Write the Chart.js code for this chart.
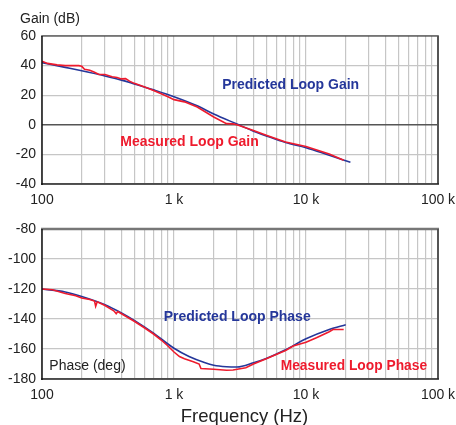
<!DOCTYPE html>
<html>
<head>
<meta charset="utf-8">
<script src="https://cdn.jsdelivr.net/npm/chart.js@4.4.1/dist/chart.umd.min.js"></script>
<style>
  html, body { margin: 0; padding: 0; background: #fff; }
  #wrap { position: relative; width: 456px; height: 425px; overflow: hidden; }
  canvas { position: absolute; left: 0; }
</style>
</head>
<body>
<div id="wrap">
  <canvas id="gainChart" width="456" height="210" style="top:0"></canvas>
  <canvas id="phaseChart" width="456" height="215" style="top:210px"></canvas>
</div>
<script>
// frequency axis
const xTicks = [100, 200, 300, 400, 500, 600, 700, 800, 900,
  1000, 2000, 3000, 4000, 5000, 6000, 7000, 8000, 9000,
  10000, 20000, 30000, 40000, 50000, 60000, 70000, 80000, 90000, 100000];
const xTickLabels = { 100: '100', 1000: '1 k', 10000: '10 k', 100000: '100 k' };

// gain (dB)
const gainPredFreq = [100, 150, 200, 300, 400, 500, 700, 1000, 1500, 2000, 3000, 4000, 5000, 7000, 10000, 15000, 21700];
const gainPredDb = [42, 38.8, 36.5, 33, 30.2, 27.6, 23.6, 19, 12.8, 7.3, 0.5, -4.3, -7.5, -12, -15.5, -20.6, -25.3];
const gainMeasFreq = [100, 110, 130, 150, 190, 200, 210, 230, 250, 270, 300, 340, 370, 400, 430, 460, 500, 600, 700, 800, 900,
  1000, 1200, 1500, 2000, 2500, 2800, 3000, 4000, 5000, 7000, 10000, 15000, 19300];
const gainMeasDb = [43, 41.5, 40.5, 40, 40, 39.5, 37.5, 36.8, 35.5, 34, 34, 32.5, 32, 31, 31.2, 29.5, 28, 25.5, 23.2, 21, 19,
  17, 15.5, 12, 5.3, 0.8, 0.6, 0, -3.8, -7, -11.6, -14.6, -19.8, -24];
const gainTicks = [-40, -20, 0, 20, 40, 60];

// phase (deg)
const phasePredFreq = [100, 150, 200, 300, 400, 500, 700, 1000, 1300, 1700, 2000, 2500, 3000, 4000, 5000, 7000, 10000, 15000, 20000];
const phasePredDeg = [-120, -122, -125, -130.5, -136, -141, -149.5, -159.5, -165, -169, -170.8, -171.8, -172, -169.2, -166.3, -160.5, -153.2, -147, -143.8];
const phaseMeasFreq = [100, 120, 150, 180, 200, 230, 250, 255, 262, 300, 350, 365, 375, 400, 500, 600, 700, 800, 900,
  1000, 1100, 1200, 1400, 1550, 1600, 2000, 2500, 2800, 3500, 4000, 5000, 6000, 7000, 8000, 10000, 12000, 15000, 16000, 19300];
const phaseMeasDeg = [-120, -120.5, -123, -124.5, -126, -127, -128, -131.5, -128.5, -131, -134.5, -136.5, -135, -136.5, -141.5, -146, -150, -154, -158,
  -162, -165, -166.5, -168.5, -170, -173, -173.5, -174.2, -174, -172.5, -170, -166.5, -163.5, -161, -158, -155.5, -152.5, -148.5, -147, -147];
const phaseTicks = [-180, -160, -140, -120, -100, -80];

const BLUE = '#25379a';
const RED = '#ee1b2d';
const FONT = '"Liberation Sans", Arial, sans-serif';

function pts(xs, ys) {
  return xs.map((x, i) => ({ x: x, y: ys[i] }));
}

// text labels and the frame round the plot
const decorPlugin = {
  id: 'decor',
  afterDraw(chart) {
    const ctx = chart.ctx;
    const a = chart.chartArea;
    const sx = chart.scales.x, sy = chart.scales.y;
    const fr = chart.options.plugins.decor;
    ctx.save();
    // frame
    const line = (x1, y1, x2, y2, c, w) => {
      ctx.strokeStyle = c; ctx.lineWidth = w;
      ctx.beginPath(); ctx.moveTo(x1, y1); ctx.lineTo(x2, y2); ctx.stroke();
    };
    line(a.left - 1, a.top, a.right + 1, a.top, fr.topColor, fr.topWidth);
    line(a.right, a.top, a.right, a.bottom, '#555', 2);
    line(a.left - 1, a.bottom, a.right + 1, a.bottom, '#222', 1.5);
    line(a.left, a.top, a.left, a.bottom + 1, '#111', 1.5);

    ctx.textBaseline = 'middle';
    ctx.textAlign = 'left';
    (fr.labels || []).forEach(l => {
      ctx.font = (l.bold ? 'bold ' : '') + l.size + 'px ' + FONT;
      ctx.fillStyle = l.color;
      const x = l.px !== undefined ? l.px : sx.getPixelForValue(l.f);
      const y = l.py !== undefined ? l.py : sy.getPixelForValue(l.v);
      if (l.align) ctx.textAlign = l.align;
      if (l.baseline) ctx.textBaseline = l.baseline;
      ctx.fillText(l.text, x, y);
      ctx.textAlign = 'left';
      ctx.textBaseline = 'middle';
    });
    ctx.restore();
  }
};

function makeChart(id, opts) {
  return new Chart(document.getElementById(id), {
    type: 'line',
    data: {
      datasets: [
        { data: opts.meas, borderColor: RED, borderWidth: 1.6, pointRadius: 0, tension: 0, fill: false },
        { data: opts.pred, borderColor: BLUE, borderWidth: 1.6, pointRadius: 0, cubicInterpolationMode: 'monotone', fill: false }
      ]
    },
    options: {
      responsive: false,
      devicePixelRatio: 1,
      animation: false,
      events: [],
      layout: { padding: { top: opts.padTop, right: 18, left: 0, bottom: 0 } },
      plugins: {
        legend: { display: false },
        tooltip: { enabled: false },
        decor: { labels: opts.labels, topColor: opts.topColor, topWidth: opts.topWidth }
      },
      scales: {
        x: {
          type: 'logarithmic',
          min: 100,
          max: 100000,
          afterBuildTicks: s => { s.ticks = xTicks.map(v => ({ value: v })); },
          afterFit: s => { s.height = opts.xHeight; s.paddingLeft = 0; s.paddingRight = 0; },
          border: { display: false },
          grid: { drawTicks: false, color: '#c6c6c6', lineWidth: 1.2 },
          ticks: {
            autoSkip: false,
            maxRotation: 0,
            padding: 8,
            color: '#222',
            font: { family: FONT, size: 14 },
            callback: v => xTickLabels[v] || ''
          }
        },
        y: {
          min: opts.ticks[0],
          max: opts.ticks[opts.ticks.length - 1],
          afterBuildTicks: s => { s.ticks = opts.ticks.map(v => ({ value: v })); },
          afterFit: s => { s.width = 42; s.paddingTop = 0; s.paddingBottom = 0; },
          border: { display: false },
          grid: {
            drawTicks: false,
            color: c => c.tick && c.tick.value === 0 ? '#555' : '#c6c6c6',
            lineWidth: c => c.tick && c.tick.value === 0 ? 1.6 : 1.2
          },
          ticks: {
            padding: 6,
            color: '#222',
            font: { family: FONT, size: 14 }
          }
        }
      }
    },
    plugins: [decorPlugin]
  });
}

makeChart('gainChart', {
  meas: pts(gainMeasFreq, gainMeasDb),
  pred: pts(gainPredFreq, gainPredDb),
  ticks: gainTicks,
  padTop: 36,
  xHeight: 26,
  topColor: '#222',
  topWidth: 1.2,
  labels: [
    { text: 'Gain (dB)', px: 20, py: 19, size: 14, color: '#222' },
    { text: 'Predicted Loop Gain', f: 2320, v: 26.7, size: 14, bold: true, color: BLUE },
    { text: 'Measured Loop Gain', f: 392, v: -11.6, size: 14, bold: true, color: RED }
  ]
});

makeChart('phaseChart', {
  meas: pts(phaseMeasFreq, phaseMeasDeg),
  pred: pts(phasePredFreq, phasePredDeg),
  ticks: phaseTicks,
  padTop: 19,
  xHeight: 46,
  topColor: '#777',
  topWidth: 2.5,
  labels: [
    { text: 'Phase (deg)', f: 113.6, v: -171.1, size: 14, color: '#222' },
    { text: 'Predicted Loop Phase', f: 835, v: -139, size: 14, bold: true, color: BLUE },
    { text: 'Measured Loop Phase', f: 6427, v: -171.3, size: 13.8, bold: true, color: RED },
    { text: 'Frequency (Hz)', px: 244.5, py: 212, size: 18.5, color: '#222', align: 'center', baseline: 'alphabetic' }
  ]
});
</script>
</body>
</html>
